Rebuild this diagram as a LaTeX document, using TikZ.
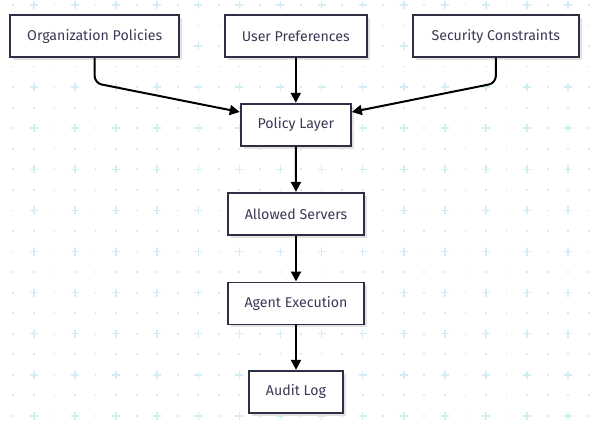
\documentclass[tikz,border=0pt]{standalone}
\usepackage{fontspec}
\setmainfont{Fira Sans}
\usetikzlibrary{arrows.meta,calc,shadows}
\definecolor{gridc}{HTML}{D2EEF4}
\definecolor{dotc}{HTML}{D2EEF4}
\definecolor{boxline}{HTML}{2E2E44}
\definecolor{txt}{HTML}{3A3A58}
\definecolor{shadowc}{HTML}{E2E2E2}
\begin{document}
\begin{tikzpicture}[x=1pt,y=-1pt,
  box/.style={draw=boxline, line width=1.8pt, fill=white, text=txt,
    font=\fontsize{14.2}{16}\selectfont, inner sep=0pt, minimum height=42pt,
    drop shadow={shadow xshift=3pt, shadow yshift=-3pt, fill=shadowc, opacity=1}},
  conn/.style={draw=black, line width=2pt, -{Triangle[length=10pt,width=10pt]}},
  plusmark/.style={draw=gridc, line width=1.5pt},
  dotmark/.style={fill=dotc},
]
\useasboundingbox (0,0) rectangle (591,421);
\fill[white] (0,0) rectangle (591,421);
% background grid
\foreach \i in {0,...,28}{
  \foreach \j in {0,...,20}{
    \pgfmathsetmacro{\gx}{13.3+\i*20.55}
    \pgfmathsetmacro{\gy}{4.9+\j*20.55}
    \pgfmathtruncatemacro{\isplus}{and(mod(\i,2)==1, mod(\j,2)==0)}
    \ifnum\isplus=1
      \draw[plusmark] (\gx-4,\gy) -- (\gx+4,\gy) (\gx,\gy-4) -- (\gx,\gy+4);
    \else
      \fill[dotmark] (\gx-0.9,\gy-0.9) rectangle (\gx+0.9,\gy+0.9);
    \fi
  }
}
% nodes
\node[box, minimum width=168.7pt] (org) at (94.7,36.2) {Organization Policies};
\node[box, minimum width=141.7pt] (usr) at (295.8,36.2) {User Preferences};
\node[box, minimum width=166.3pt] (sec) at (495.8,36.2) {Security Constraints};
\node[box, minimum width=110.3pt] (pl) at (295.8,124.7) {Policy Layer};
\node[box, minimum width=136.6pt] (as) at (296,213.8) {Allowed Servers};
\node[box, minimum width=136pt] (ae) at (296,303.4) {Agent Execution};
\node[box, minimum width=94pt] (al) at (296,391.8) {Audit Log};
% connectors
\coordinate (c1) at ($(org.south)+(0,25)$);
\coordinate (c2) at ($(sec.south)+(0,25)$);
\coordinate (t1) at ($(pl.north west)!0.21!(pl.south west)$);
\coordinate (t2) at ($(pl.north east)!0.21!(pl.south east)$);
\draw[conn, rounded corners=7pt] (org.south) -- (c1) -- (t1);
\draw[conn, rounded corners=7pt] (sec.south) -- (c2) -- (t2);
\draw[conn] (usr.south) -- (pl.north);
\draw[conn] (pl.south) -- (as.north);
\draw[conn] (as.south) -- (ae.north);
\draw[conn] (ae.south) -- (al.north);
\end{tikzpicture}
\end{document}
